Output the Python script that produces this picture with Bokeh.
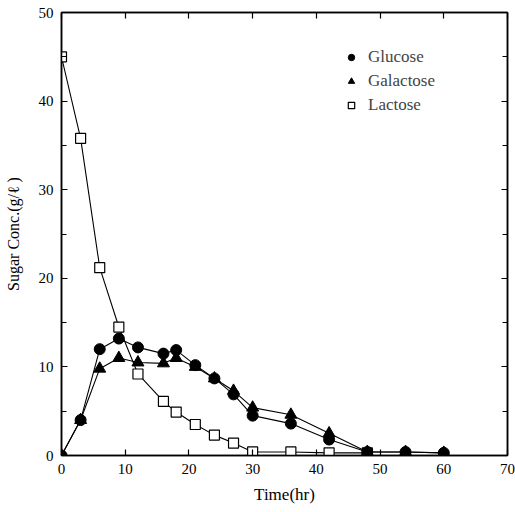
from bokeh.plotting import figure
from bokeh.models import LinearAxis, FixedTicker, Legend, LegendItem, Range1d
from bokeh.embed import file_html
from bokeh.resources import INLINE

# Data
time_glu = [0, 3, 6, 9, 12, 16, 18, 21, 24, 27, 30, 36, 42, 48, 54, 60]
glucose = [0, 4.0, 12.0, 13.2, 12.2, 11.5, 11.9, 10.2, 8.7, 6.9, 4.5, 3.6, 1.8, 0.4, 0.4, 0.3]
time_gal = [0, 3, 6, 9, 12, 16, 18, 21, 24, 27, 30, 36, 42, 48, 54, 60]
galactose = [0, 4.0, 9.8, 11.0, 10.5, 10.4, 11.0, 10.0, 8.7, 7.3, 5.4, 4.6, 2.5, 0.4, 0.4, 0.3]
time_lac = [0, 3, 6, 9, 12, 16, 18, 21, 24, 27, 30, 36, 42, 48]
lactose = [45.0, 35.8, 21.2, 14.5, 9.2, 6.1, 4.9, 3.5, 2.3, 1.4, 0.4, 0.4, 0.3, 0.3]

x_ticks = [0, 10, 20, 30, 40, 50, 60, 70]
y_ticks = [0, 10, 20, 30, 40, 50]
y_minor = [5, 15, 25, 35, 45]

FONT = "Liberation Serif"

p = figure(width=515, height=512, output_backend="svg", toolbar_location=None,
           x_range=Range1d(0, 70), y_range=Range1d(0, 50),
           x_axis_location=None, y_axis_location=None,
           min_border_left=61, min_border_right=8, min_border_top=12, min_border_bottom=57)
p.background_fill_color = "white"
p.border_fill_color = "white"
p.grid.visible = False
p.outline_line_color = "black"
p.outline_line_width = 1.5

def make_axis(labels=True, minor=False, ticks=None):
    ax = LinearAxis()
    ax.ticker = FixedTicker(ticks=ticks, minor_ticks=(y_minor if minor else []))
    ax.major_tick_in = 6
    ax.major_tick_out = 0
    ax.minor_tick_in = 5 if minor else 0
    ax.minor_tick_out = 0
    ax.axis_line_color = "black"
    ax.axis_line_width = 1.5
    ax.major_tick_line_width = 1.2
    ax.minor_tick_line_width = 1.2
    ax.major_label_text_font = FONT
    ax.major_label_text_font_size = "15px"
    ax.major_label_text_color = "black"
    if labels:
        ax.major_label_standoff = 8
    else:
        ax.major_label_overrides = {t: "" for t in ticks}
        ax.major_label_standoff = 0
    return ax

xb = make_axis(ticks=x_ticks)
xb.axis_label = "Time(hr)"
xb.axis_label_text_font = FONT
xb.axis_label_text_font_style = "normal"
xb.axis_label_text_font_size = "17px"
xb.axis_label_text_color = "black"
xb.axis_label_standoff = 8
p.add_layout(xb, "below")

yl = make_axis(ticks=y_ticks, minor=True)
yl.axis_label = "Sugar Conc.(g/\u2113 )"
yl.axis_label_text_font = FONT
yl.axis_label_text_font_style = "normal"
yl.axis_label_text_font_size = "16px"
yl.axis_label_text_color = "black"
yl.axis_label_standoff = 14
yl.major_label_orientation = "horizontal"
p.add_layout(yl, "left")

xt = make_axis(labels=False, ticks=x_ticks)
p.add_layout(xt, "above")
yr = make_axis(labels=False, ticks=y_ticks, minor=True)
p.add_layout(yr, "right")

# lines
p.line(time_lac, lactose, line_color="black", line_width=1.1)
p.line(time_gal, galactose, line_color="black", line_width=1.1)
p.line(time_glu, glucose, line_color="black", line_width=1.1)

r_lac = p.scatter(time_lac, lactose, marker="square", size=10, fill_color="white",
                  line_color="black", line_width=1.2)
r_gal = p.scatter(time_gal, galactose, marker="triangle", size=12, fill_color="black",
                  line_color="black")
r_glu = p.scatter(time_glu, glucose, marker="circle", size=11, fill_color="black",
                  line_color="black")

legend = Legend(items=[LegendItem(label="Glucose", renderers=[r_glu]),
                       LegendItem(label="Galactose", renderers=[r_gal]),
                       LegendItem(label="Lactose", renderers=[r_lac])],
                location=(282, 340))
legend.border_line_color = None
legend.background_fill_alpha = 0
legend.label_text_font = FONT
legend.label_text_font_size = "17px"
legend.glyph_height = 20
legend.glyph_width = 16
legend.label_height = 20
legend.spacing = 4
legend.label_standoff = 9
legend.padding = 4
p.add_layout(legend, "center")

open("out.html", "w").write(file_html(p, INLINE))
